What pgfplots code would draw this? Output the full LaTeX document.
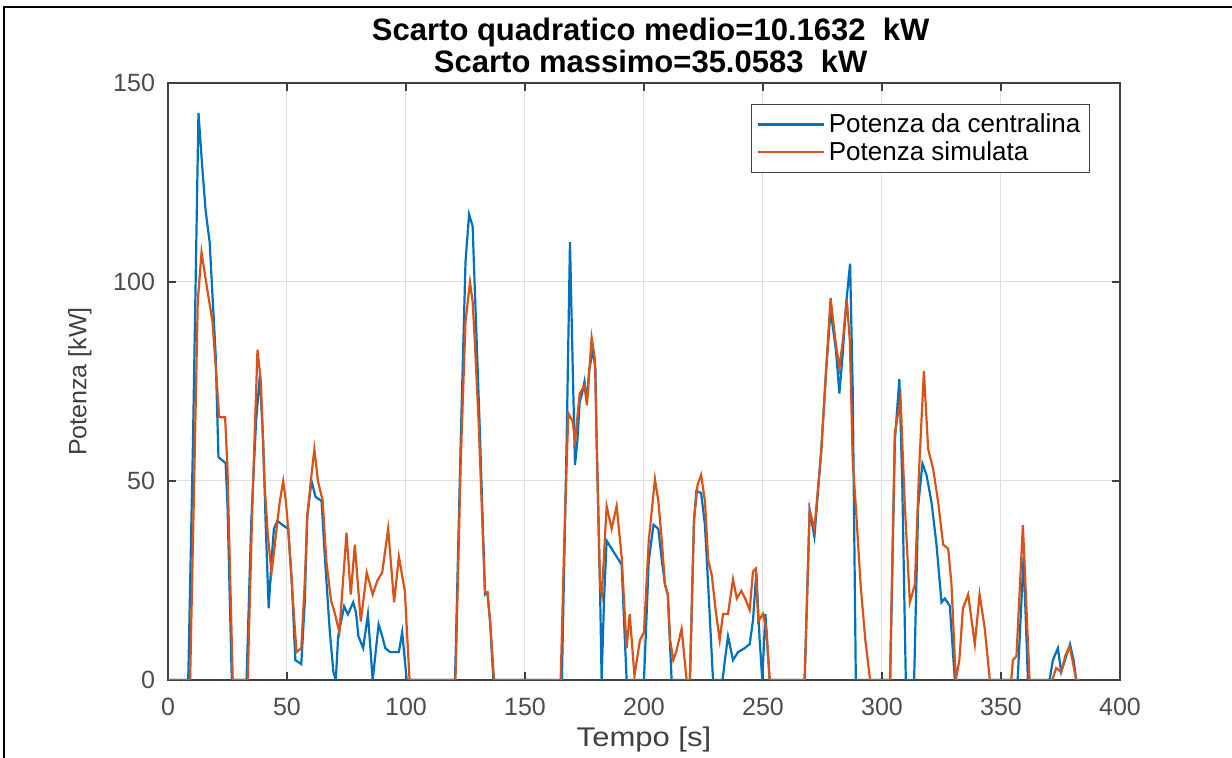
\documentclass[border=0pt]{standalone}
\usepackage{fontspec}
\setmainfont{Liberation Sans}
\usepackage{graphicx}
\usepackage{pgfplots}
\pgfplotsset{compat=1.18}
\definecolor{mblue}{rgb}{0,0.447,0.741}
\definecolor{morange}{rgb}{0.85,0.325,0.098}
\definecolor{axgray}{gray}{0.25}
\begin{document}
\begin{tikzpicture}
\path[use as bounding box] (-84pt,-39pt) rectangle (532pt,340pt);
\begin{axis}[
  at={(0pt,0pt)}, anchor=south west,
  scale only axis, width=476pt, height=298.5pt,
  xmin=0, xmax=400, ymin=0, ymax=150,
  xtick={0,50,...,400}, ytick={0,50,100,150},
  grid=major, major grid style={black!13, line width=0.5pt},
  axis line style={axgray, line width=0.6pt},
  tick style={axgray, line width=0.6pt},
  tick align=inside, major tick length=4pt,
  /pgf/number format/assume math mode=true,
  ticklabel style={font=\fontsize{12.5}{13}\selectfont, text=black!70},
  xticklabel style={yshift=-5.5pt},
  yticklabel style={xshift=-3pt},
  xlabel={\scalebox{1.15}[1]{Tempo [s]}}, ylabel={Potenza [kW]},
  xlabel style={at={(axis description cs:0.5,-0.1005)}, anchor=center, font=\fontsize{13.5}{14}\selectfont, text=black!75},
  ylabel style={at={(axis description cs:-0.0924,0.5)}, anchor=center, font=\fontsize{12.5}{13}\selectfont, text=black!75},
  title={Scarto quadratico medio=10.1632\ \ kW\\Scarto massimo=35.0583\ \ kW},
  title style={at={(axis description cs:0.507,1.0436)}, anchor=center, align=center, font=\bfseries\fontsize{15.5}{16}\selectfont},
  legend style={at={(0.9685,0.965)}, anchor=north east, draw=black!75, line width=0.6pt, font=\fontsize{13}{14}\selectfont, inner sep=2.5pt, row sep=-1pt},
  legend cell align=left,
  legend image code/.code={\draw[#1] (0pt,0pt) -- (33pt,0pt);},
]
\addplot[mblue, line width=1.1pt] coordinates {
(0,0) (8.5,0) (10.5,60) (12.8,142.5) (14.5,128) (15.8,118) (17.5,110) (20,82) (21.2,56) (24.2,54.5) (25,44) (26.8,0) (33,0) (35,40) (37,65) (38.6,76.5) (40,60) (41,40) (42.3,18) (43.5,30) (44.5,38) (46,40) (48,39) (50.5,38) (52,25) (53.5,5) (56,4) (57.5,20) (58.5,41) (60.3,50) (62,46) (64.5,45) (66,30) (68,12) (69.5,2) (70.5,0) (71.5,11) (74,18.5) (75.6,16.5) (77.8,19.5) (79,17) (80,11) (82,8) (84,16.5) (86,0) (88.5,14) (90,11) (91.3,8) (93.4,7) (97,7) (98.4,12) (100.3,0) (120.6,0) (123,60) (125,105) (126.5,117) (128,114) (128.8,100) (130,80) (131,63) (133.2,21.5) (134.2,22) (135.3,15) (136.7,0) (165.5,0) (167.5,60) (168.9,110) (170,80) (171,54) (172,60) (173,70) (174,72) (175,75) (176,70) (177,78) (178.6,83) (179.6,78) (180,63) (181.5,24) (182.2,0) (183.2,20) (184.3,35) (190.6,29) (192.7,0) (200,0) (202,30) (204,39) (206,38) (207.5,30) (208.8,24) (210,21.5) (211.6,0) (219.3,0) (221,40) (222,47.5) (224,47) (225.6,39) (227,23.4) (229,0) (233,0) (234,5) (235.3,11) (237.4,5) (239.5,7) (242.3,8) (244.4,9) (245.8,15) (247.2,27) (248.6,10) (249.7,0) (251,16.6) (252.8,0) (267.5,0) (269.6,42.7) (271.6,36) (274.4,57) (276.5,77.6) (278.4,93) (280.7,82.5) (282.1,72) (283.5,82) (285,95) (286.6,104.6) (287.7,72.7) (289,0) (303.4,0) (305.4,60) (307.3,75.6) (308.5,50) (310,0) (313.5,0) (315.2,43.7) (317,54.4) (318.7,51.5) (320.8,44.7) (322.9,34) (325,19.5) (326.4,20.5) (328.5,18.6) (330.6,0) (357,0) (359.5,31) (361.3,0) (370.4,0) (371.8,5) (373.9,8) (375.3,2) (377.4,6) (379,9) (380.5,5) (381.6,0) (383,0)
};
\addlegendentry{Potenza da centralina}
\addplot[morange, line width=1.1pt] coordinates {
(0,0) (9.3,0) (11,50) (12.5,95) (14.1,107.5) (16,100) (18.7,90) (20.5,75) (21.5,66) (24,66) (25,53) (27.2,0) (33.5,0) (35.5,45) (37.6,83) (39,75) (40.5,50) (42,36) (43.5,27) (44.5,32) (46,40) (47,45) (48.4,50) (49.5,45) (50.5,38) (52.5,20) (54,7) (56,8) (57.5,25) (58.5,41) (60,50) (61.5,58) (63,50) (65,45) (66.5,30) (68.5,20) (70,17) (72,12) (75,37) (76.8,21.5) (78.5,34) (81,14.7) (83.5,27) (86,21.5) (88,25) (90,27) (92.5,38) (95,19.5) (97,31) (99.5,22.4) (101.5,0) (120.8,0) (123,55) (125,90) (126.9,100) (128,95) (129,84) (130.5,65) (133.2,22) (134.2,22) (135.3,15) (137,0) (165,0) (166.5,35) (168.2,67) (170,65) (171,60) (173,72) (175,74) (176,69) (178,86) (179.4,80.5) (180,63) (181.5,24) (182.3,21.5) (184.3,43.7) (186.4,38) (188.5,43.7) (190.6,31) (192.7,8) (194,16.6) (196,1) (197,5) (198.3,10) (200,12) (202,35) (204.6,50.5) (206,45) (207.5,35) (208.8,24) (210,21.5) (211,10) (212.3,5) (213.5,7) (215.8,12.8) (217.9,0) (219.3,0) (221,40) (222.5,49) (224,51.5) (225.6,45) (227,30) (228.5,26.3) (230,18) (231.8,10) (233.2,16.6) (235.3,16.6) (237.4,25.3) (239,20.5) (240.9,22.4) (242.5,20.5) (244.4,17.6) (245.8,27.3) (247,28) (248,14.7) (250,16.6) (251.4,12.8) (252.8,0) (267.5,0) (269.6,42.7) (271.6,38) (274.4,57) (276.5,77.6) (278.4,96) (280.7,84) (282.1,78.5) (283.5,85) (285.2,95.7) (286.5,85) (287.7,55) (289,43.7) (291,24) (293,10) (295,0) (303.4,0) (305.4,62) (307.8,70.8) (309.5,45) (311.7,19.5) (313.8,24) (315.6,53) (317.6,77.6) (319.4,58) (321.5,53) (323.6,44.7) (325.7,34) (327.8,33) (329.2,24) (331,0) (332.5,5) (334,18) (336.2,21.5) (339,9) (341,21.5) (343.2,12.8) (345.3,0) (354.3,0) (355,5) (356.5,6) (359.2,38.9) (362,0) (371.5,0) (373.2,3) (375.3,2) (377,6) (378.8,8.4) (380,5) (381.6,0) (383,0)
};
\addlegendentry{Potenza simulata}
\end{axis}
\draw[black, line width=0.8pt] (-82pt,-39pt) -- (-82pt,336.5pt) -- (532pt,336.5pt);
\end{tikzpicture}
\end{document}
